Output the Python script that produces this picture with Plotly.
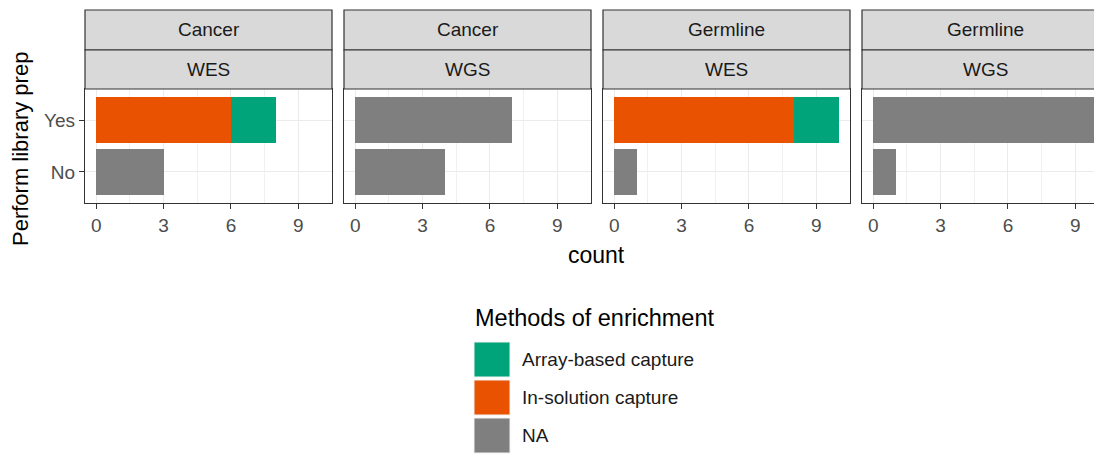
import plotly.graph_objects as go

# the page puts the figure 8px in from the window's top left corner
OFF = 8
IMG_W, IMG_H = 1102, 455
W, H = IMG_W - OFF, IMG_H - OFF

# data
sample_types = ["Cancer", "Cancer", "Germline", "Germline"]
seq_types = ["WES", "WGS", "WES", "WGS"]
prep_levels = ["No", "Yes"]
methods = ["In-solution capture", "Array-based capture", "NA"]
legend_order = ["Array-based capture", "In-solution capture", "NA"]
colors = {"Array-based capture": "#00A47A", "In-solution capture": "#E85200", "NA": "#7F7F7F"}

# counts per panel, per method, for [No, Yes]
counts = [
    {"In-solution capture": [0, 6], "Array-based capture": [0, 2], "NA": [3, 0]},
    {"In-solution capture": [0, 0], "Array-based capture": [0, 0], "NA": [4, 7]},
    {"In-solution capture": [0, 8], "Array-based capture": [0, 2], "NA": [1, 0]},
    {"In-solution capture": [0, 0], "Array-based capture": [0, 0], "NA": [1, 10]},
]
x_ticks = [0, 3, 6, 9]

FONT = "Liberation Sans, Arial"


def px(x):
    return (x - OFF) / W


def py(y):
    return 1 - (y - OFF) / H


panel_left = [85, 344, 603, 862]
panel_w = 247
strip_top, strip_mid, panel_top, panel_bottom = 10, 50, 89, 203

fig = go.Figure()

for i in range(4):
    ax = "" if i == 0 else str(i + 1)
    for m in methods:
        vals = counts[i][m]
        fig.add_trace(go.Bar(
            x=vals, y=prep_levels, orientation="h", name=m,
            marker=dict(color=colors[m], line=dict(width=0)),
            width=0.9, showlegend=False,
            xaxis="x" + ax, yaxis="y" + ax,
        ))

    # last panel runs past the right edge of the picture: clip it, keep the scale
    right = min(panel_left[i] + panel_w, IMG_W)
    x_hi = -0.5 + 11 * (right - panel_left[i]) / panel_w

    axis_style = dict(
        showline=True, mirror=True, linecolor="#333333", linewidth=1.2,
        ticks="outside", ticklen=5, tickcolor="#333333",
        tickfont=dict(family=FONT, size=19, color="#4D4D4D"),
        gridcolor="#EBEBEB", gridwidth=1, zeroline=False,
    )
    fig.layout["xaxis" + ax] = dict(
        axis_style,
        domain=[px(panel_left[i]), px(right)],
        range=[-0.5, x_hi], tickvals=x_ticks, anchor="y" + ax,
        minor=dict(showgrid=True, tickvals=[1.5, 4.5, 7.5], gridcolor="#F1F1F1", ticks=""),
    )
    fig.layout["yaxis" + ax] = dict(
        axis_style,
        domain=[py(panel_bottom), py(panel_top)],
        type="category", categoryarray=prep_levels, range=[-0.6, 1.6],
        anchor="x" + ax, showticklabels=(i == 0),
        ticks="outside" if i == 0 else "",
    )

    # strips
    x0, x1 = px(panel_left[i]), px(panel_left[i] + panel_w)
    for (t, b, label) in [(strip_top, strip_mid, sample_types[i]), (strip_mid, panel_top, seq_types[i])]:
        fig.add_shape(type="rect", xref="paper", yref="paper",
                      x0=x0, x1=x1, y0=py(b), y1=py(t),
                      fillcolor="#D9D9D9", line=dict(color="#333333", width=1.2), layer="above")
        fig.add_annotation(x=(x0 + x1) / 2, y=py((t + b) / 2), xref="paper", yref="paper",
                           text=label, showarrow=False, xanchor="center", yanchor="middle",
                           font=dict(family=FONT, size=19, color="#1A1A1A"))

# axis titles
fig.add_annotation(x=px(596), y=py(255), xref="paper", yref="paper", text="count",
                   showarrow=False, xanchor="center", yanchor="middle",
                   font=dict(family=FONT, size=23, color="black"))
fig.add_annotation(x=px(20), y=py(149), xref="paper", yref="paper", text="Perform library prep",
                   textangle=-90, showarrow=False, xanchor="center", yanchor="middle",
                   font=dict(family=FONT, size=22, color="black"))

# legend
fig.add_annotation(x=px(473), y=py(318), xref="paper", yref="paper", text="Methods of enrichment",
                   xanchor="left", yanchor="middle", showarrow=False,
                   font=dict(family=FONT, size=23.5, color="black"))
key_tops = [342, 380, 418]
for m, kt in zip(legend_order, key_tops):
    fig.add_shape(type="rect", xref="paper", yref="paper",
                  x0=px(474), x1=px(510), y0=py(kt + 35), y1=py(kt),
                  fillcolor=colors[m], line=dict(color="#F2F2F2", width=1))
    fig.add_annotation(x=px(520), y=py(kt + 17.5), xref="paper", yref="paper", text=m,
                       xanchor="left", yanchor="middle", showarrow=False,
                       font=dict(family=FONT, size=19, color="#1A1A1A"))

fig.update_layout(
    width=W, height=H, barmode="stack",
    margin=dict(l=0, r=0, t=0, b=0),
    paper_bgcolor="white", plot_bgcolor="white",
    showlegend=False,
)

fig.write_html("out.html")
